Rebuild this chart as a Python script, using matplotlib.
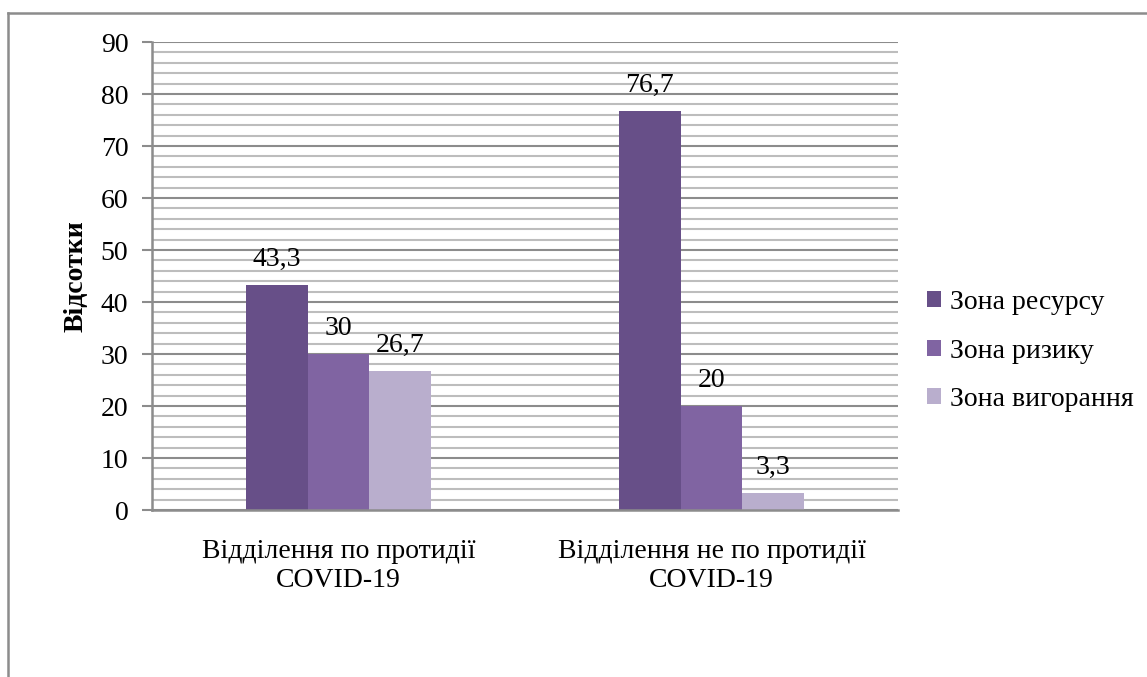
import matplotlib
matplotlib.use("Agg")
import matplotlib.pyplot as plt
from matplotlib.patches import Patch
from matplotlib.lines import Line2D
import numpy as np

plt.rcParams['font.family'] = ['Liberation Serif', 'DejaVu Serif']

categories = ["Відділення по протидії\nCOVID-19", "Відділення не по протидії\nCOVID-19"]
series_names = ["Зона ресурсу", "Зона ризику", "Зона вигорання"]
values_resource = [43.3, 76.7]
values_risk = [30, 20]
values_burnout = [26.7, 3.3]
labels_resource = ["43,3", "76,7"]
labels_risk = ["30", "20"]
labels_burnout = ["26,7", "3,3"]
colors = ["#674F88", "#8064A2", "#B9AECD"]

series = [values_resource, values_risk, values_burnout]
series_labels = [labels_resource, labels_risk, labels_burnout]

fig = plt.figure(figsize=(11.47, 6.77), dpi=100)
ax = fig.add_axes([152/1147, 1-510/677, (898-152)/1147, (510-42)/677])

fs = 20
x = np.arange(len(categories))
w = 0.166
offsets = [-w, 0, w]
for vals, labs, col, off, name in zip(series, series_labels, colors, offsets, series_names):
    bars = ax.bar(x + off, vals, width=w, color=col, zorder=3, label=name)
    for b, lab in zip(bars, labs):
        ax.annotate(lab, (b.get_x() + b.get_width()/2, b.get_height()),
                    xytext=(0, 18.5), textcoords='offset points',
                    ha='center', va='center', fontsize=fs, zorder=4)

ax.set_xlim(-0.5, 1.5)
ax.set_ylim(0, 90)
ax.set_yticks(np.arange(0, 91, 10))
ax.set_yticks(np.arange(0, 91, 2), minor=True)
ax.yaxis.grid(True, which='major', color='#8C8C8C', lw=1.5, zorder=1)
ax.yaxis.grid(True, which='minor', color='#BDBDBD', lw=1.5, zorder=1)
ax.tick_params(axis='y', which='major', length=7, width=1.5, color='#8C8C8C',
               labelsize=fs, pad=10)
ax.tick_params(axis='y', which='minor', length=0)
ax.set_xticks(x)
ax.set_xticklabels(categories, fontsize=fs, linespacing=1.2)
ax.tick_params(axis='x', length=0, pad=21)

for s in ['top', 'right']:
    ax.spines[s].set_visible(False)
for s in ['left', 'bottom']:
    ax.spines[s].set_color('#8C8C8C')
    ax.spines[s].set_linewidth(1.8)
    ax.spines[s].set_zorder(5)

ax.set_ylabel("Відсотки", fontsize=fs, fontweight='bold')
ax.yaxis.set_label_coords(-(152-89)/746, 0.5)

handles = [Patch(facecolor=c, edgecolor='none') for c in colors]
fig.legend(handles, series_names, loc='center left', bbox_to_anchor=(927/1147, 1-351/677),
           frameon=False, fontsize=fs, handlelength=0.52, handleheight=0.52,
           handletextpad=0.3, labelspacing=0.85, borderpad=0, borderaxespad=0)

# outer chart frame
fig.add_artist(Line2D([8/1147, 1.0], [1-13/677, 1-13/677], transform=fig.transFigure,
                      color='#8C8C8C', lw=1.8))
fig.add_artist(Line2D([8/1147, 8/1147], [1-13/677, 0.0], transform=fig.transFigure,
                      color='#8C8C8C', lw=1.8))

fig.savefig("out.png", dpi=100)
